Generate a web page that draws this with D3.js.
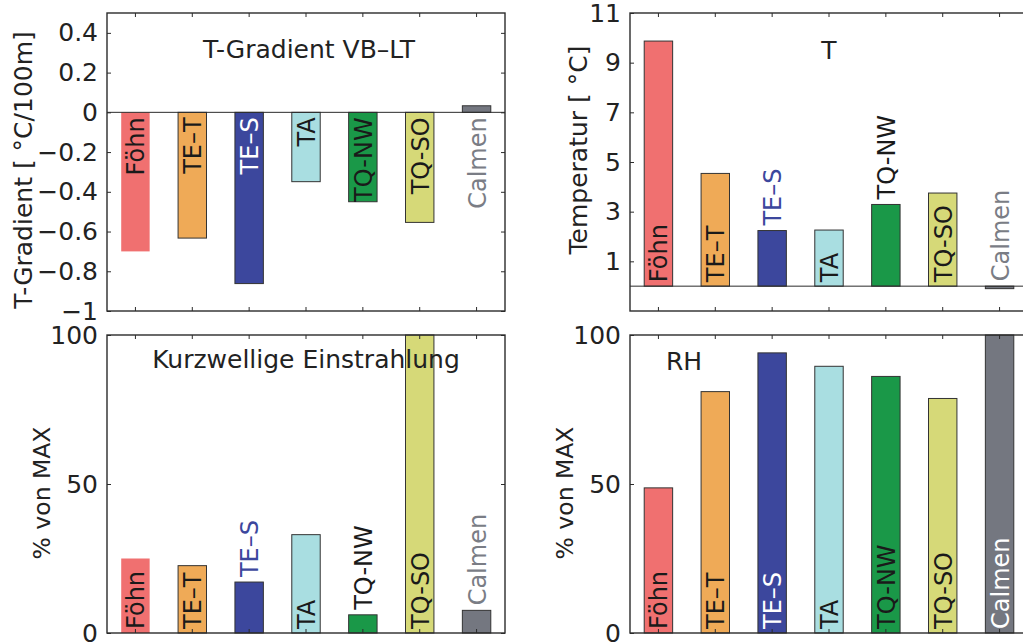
<!DOCTYPE html>
<html>
<head>
<meta charset="utf-8">
<script src="https://cdn.jsdelivr.net/npm/d3@7"></script>
<style>
  html, body { margin: 0; padding: 0; background: #fff; }
  svg { display: block; font-family: "DejaVu Sans", sans-serif; }
</style>
</head>
<body>
<svg id="chart" width="1023" height="643"></svg>
<script>
// Weather-type categories
const categories = ["Föhn", "TE–T", "TE–S", "TA", "TQ-NW", "TQ-SO", "Calmen"];

// Series per panel
const gradient    = [-0.70, -0.633, -0.862, -0.349, -0.45, -0.554, 0.033]; // °C/100m
const temperature = [9.87, 4.54, 2.24, 2.26, 3.29, 3.75, -0.10];          // °C
const shortwave   = [25.0, 22.6, 17.1, 33.0, 6.1, 100.0, 7.6];            // % of max
const humidity    = [48.7, 81.0, 94.0, 89.5, 86.1, 78.7, 100.0];          // % of max

// Tick values
const gradientTicks    = [-1, -0.8, -0.6, -0.4, -0.2, 0, 0.2, 0.4];
const temperatureTicks = [1, 3, 5, 7, 9, 11];
const percentTicks     = [0, 50, 100];

// Bar fills and label inks
const barColors      = ["#F07070", "#EFAA57", "#3C479D", "#A9DEE1", "#1A9848", "#D6D978", "#747780"];
const inkInside      = ["#1a1a1a", "#1a1a1a", "#ffffff", "#1a1a1a", "#1a1a1a", "#1a1a1a", "#ffffff"];
const inkOutside     = ["#1a1a1a", "#1a1a1a", "#3C479D", "#1a1a1a", "#1a1a1a", "#1a1a1a", "#7A7D85"];

const svg = d3.select("#chart");
const W = 398, H = 298;
const AX = "#2b2b2b";

const panels = [
  { values: gradient, domain: [-1, 0.5], ticks: gradientTicks, left: 107, top: 13,
    title: "T-Gradient VB–LT", titleX: 202, titleY: 45, titleAnchor: "middle",
    ylabel: "T-Gradient [ °C/100m]", ylabelSize: 25, ylx: 32, yly: 170,
    labelMode: "down", zeroLine: true, foehnEdge: false },
  { values: temperature, domain: [-1, 11], ticks: temperatureTicks, left: 630, top: 13,
    title: "T", titleX: 199, titleY: 46, titleAnchor: "middle",
    ylabel: "Temperatur [ °C]", ylabelSize: 25, ylx: 587, yly: 150,
    labelMode: "up", zeroLine: true, foehnEdge: true },
  { values: shortwave, domain: [0, 100], ticks: percentTicks, left: 107, top: 335,
    title: "Kurzwellige Einstrahlung", titleX: 199, titleY: 33, titleAnchor: "middle",
    ylabel: "% von MAX", ylabelSize: 23.5, ylx: 50, yly: 493,
    labelMode: "up", zeroLine: false, foehnEdge: false },
  { values: humidity, domain: [0, 100], ticks: percentTicks, left: 630, top: 335,
    title: "RH", titleX: 36, titleY: 35, titleAnchor: "start",
    ylabel: "% von MAX", ylabelSize: 23.5, ylx: 573, yly: 493,
    labelMode: "up", zeroLine: false, foehnEdge: true }
];

const fmt = d3.format("~g");

panels.forEach(p => {
  const g = svg.append("g").attr("transform", `translate(${p.left},${p.top})`);

  const x = d3.scaleBand().domain(categories).range([0, W])
    .paddingInner(0.5).paddingOuter(0.25);
  const y = d3.scaleLinear().domain(p.domain).range([H, 0]);

  // Bars
  g.selectAll("rect.bar").data(p.values).join("rect")
    .attr("class", "bar")
    .attr("x", (d, i) => x(categories[i]))
    .attr("width", x.bandwidth())
    .attr("y", d => y(Math.max(0, d)))
    .attr("height", d => Math.abs(y(d) - y(0)))
    .attr("fill", (d, i) => barColors[i])
    .attr("stroke", (d, i) => (i === 0 && !p.foehnEdge) ? "none" : "#333")
    .attr("stroke-width", 1);

  // Zero line
  if (p.zeroLine) {
    g.append("line").attr("x1", 0).attr("x2", W)
      .attr("y1", y(0)).attr("y2", y(0))
      .attr("stroke", AX).attr("stroke-width", 1);
  }

  // Rotated category labels
  p.values.forEach((v, i) => {
    const cx = x(categories[i]) + x.bandwidth() / 2 + 9;
    const t = g.append("text")
      .attr("font-size", 24)
      .text(categories[i]);
    const len = t.node().getComputedTextLength();
    const barLen = Math.abs(y(v) - y(0));
    let yy, inside, anchor;
    if (p.labelMode === "down") {
      anchor = "end";
      yy = y(0) + 5;
      inside = v < 0 && barLen >= len + 4;
    } else {
      anchor = "start";
      inside = v > 0 && barLen >= len + 4;
      yy = inside ? y(0) - 4 : y(Math.max(0, v)) - 5;
    }
    t.attr("text-anchor", anchor)
      .attr("transform", `translate(${cx},${yy}) rotate(-90)`)
      .attr("fill", inside ? inkInside[i] : inkOutside[i]);
  });

  // Axes: ticks point inward, box drawn separately
  const yl = g.append("g").call(d3.axisLeft(y).tickValues(p.ticks).tickSize(-4)
      .tickPadding(9).tickFormat(fmt));
  const yr = g.append("g").attr("transform", `translate(${W},0)`)
    .call(d3.axisRight(y).tickValues(p.ticks).tickSize(-4).tickFormat(""));
  const xb = g.append("g").attr("transform", `translate(0,${H})`)
    .call(d3.axisBottom(x).tickSize(-4).tickFormat(""));
  const xt = g.append("g")
    .call(d3.axisTop(x).tickSize(-4).tickFormat(""));
  [yl, yr, xb, xt].forEach(a => {
    a.select(".domain").remove();
    a.selectAll(".tick line").attr("stroke", AX).attr("stroke-width", 1);
  });
  yl.selectAll(".tick text")
    .attr("font-size", 25).attr("fill", "#222")
    .style("font-family", "DejaVu Sans, sans-serif");

  g.append("rect").attr("width", W).attr("height", H)
    .attr("fill", "none").attr("stroke", AX).attr("stroke-width", 1.4);

  // Panel title
  g.append("text")
    .attr("x", p.titleX).attr("y", p.titleY)
    .attr("text-anchor", p.titleAnchor)
    .attr("font-size", 25).attr("fill", "#222")
    .text(p.title);

  // Y axis label
  svg.append("text")
    .attr("transform", `translate(${p.ylx},${p.yly}) rotate(-90)`)
    .attr("text-anchor", "middle")
    .attr("font-size", p.ylabelSize).attr("fill", "#222")
    .text(p.ylabel);
});
</script>
</body>
</html>
